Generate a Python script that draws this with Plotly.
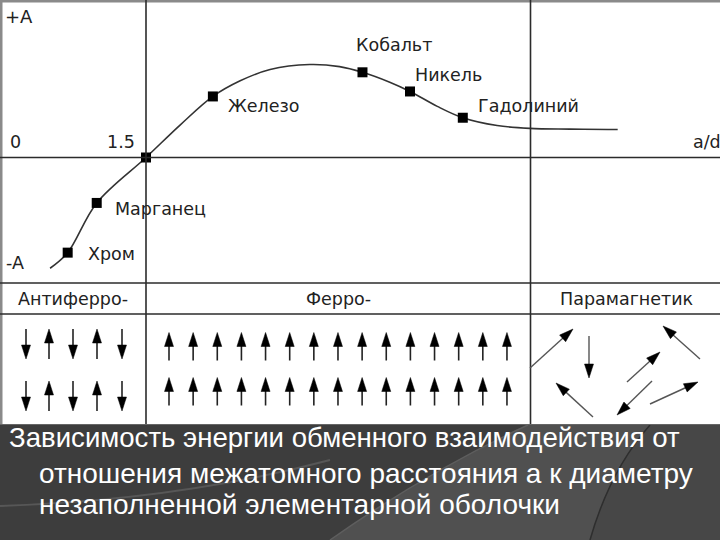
import math
import plotly.graph_objects as go

# ---------------- data ----------------
# exchange-energy curve (x: a/d, y: in units of A)
curve_x = [0.41, 0.61, 0.94, 1.50, 1.89, 2.26, 2.57, 2.91, 3.36, 3.70, 3.96, 4.27, 4.50, 4.81, 5.10, 5.49, 5.86, 6.32, 6.75, 6.86]
curve_y = [-0.78, -0.67, -0.32, 0.00, 0.23, 0.43, 0.54, 0.62, 0.655, 0.64, 0.60, 0.53, 0.465, 0.36, 0.28, 0.225, 0.205, 0.20, 0.197, 0.197]

elem_names = ["Хром", "Марганец", "", "Железо", "Кобальт", "Никель", "Гадолиний"]
elem_x = [0.61, 0.94, 1.50, 2.26, 3.96, 4.50, 5.10]
elem_y = [-0.67, -0.32, 0.00, 0.43, 0.60, 0.465, 0.28]

region_labels = ["Антиферро-", "Ферро-", "Парамагнетик"]

# spin directions (+1 up, -1 down)
antiferro_row1 = [-1, 1, -1, 1, -1]
antiferro_row2 = [-1, 1, -1, 1, -1]
ferro_row1 = [1, 1, 1, 1, 1, 1, 1, 1, 1, 1, 1, 1, 1, 1, 1]
ferro_row2 = [1, 1, 1, 1, 1, 1, 1, 1, 1, 1, 1, 1, 1, 1, 1]

# paramagnetic spins: tail -> head (layout pixels)
para_tail_x = [530, 589, 700, 627, 593, 652, 650]
para_tail_y = [368, 336, 359, 382, 417, 381, 404]
para_head_x = [573, 589, 663, 660, 556, 617, 698]
para_head_y = [329, 378, 326, 352, 383, 415, 382]

caption_lines = [
    "Зависимость энергии обменного взаимодействия от",
    "отношения межатомного расстояния а к диаметру",
    "незаполненной элементарной оболочки",
]

# ---------------- layout helpers ----------------
W, H = 720, 540
X0PX, XSCALE = 14.0, 88.0      # pixel of a/d=0 and px per unit
Y0PX, YSCALE = 157.5, 142.0    # pixel of energy 0 and px per A

LINE = "#2b2b2b"
shapes = []
annotations = []

def pline(x0, y0, x1, y1, color=LINE, width=1.6):
    shapes.append(dict(type="line", xref="x2", yref="y2", x0=x0, y0=y0, x1=x1, y1=y1,
                       line=dict(color=color, width=width)))

def arrow(x0, y0, x1, y1, head_len=14, head_w=9, shaft_color="#222", shaft_w=1.6, head_color="#000"):
    dx, dy = x1 - x0, y1 - y0
    L = math.hypot(dx, dy)
    ux, uy = dx / L, dy / L
    bx, by = x1 - ux * head_len, y1 - uy * head_len
    px, py = -uy, ux
    pline(x0, y0, bx + ux * 2, by + uy * 2, color=shaft_color, width=shaft_w)
    path = "M{:.2f},{:.2f} L{:.2f},{:.2f} L{:.2f},{:.2f} Z".format(
        x1, y1, bx + px * head_w / 2, by + py * head_w / 2, bx - px * head_w / 2, by - py * head_w / 2)
    shapes.append(dict(type="path", xref="x2", yref="y2", path=path,
                       fillcolor=head_color, line=dict(color=head_color, width=0.5)))

# ---------------- background / frame ----------------
shapes.append(dict(type="rect", xref="x2", yref="y2", x0=0, y0=425, x1=720, y1=540,
                   fillcolor="#3d3d3d", line=dict(width=0), layer="below"))
shapes.append(dict(type="path", xref="x2", yref="y2",
                   path="M528,425 Q430,470 330,540 L590,540 Q610,470 650,425 Z",
                   fillcolor="#505050", line=dict(width=0), layer="below"))
shapes.append(dict(type="path", xref="x2", yref="y2",
                   path="M650,425 Q610,470 590,540 L720,540 L720,425 Z",
                   fillcolor="#474747", line=dict(width=0), layer="below"))
shapes.append(dict(type="path", xref="x2", yref="y2",
                   path="M0,506 Q180,500 330,460",
                   line=dict(color="#575757", width=2), layer="below"))
shapes.append(dict(type="path", xref="x2", yref="y2",
                   path="M528,425 Q430,470 330,540",
                   line=dict(color="#5e5e5e", width=1.5), layer="below"))
shapes.append(dict(type="path", xref="x2", yref="y2",
                   path="M650,425 Q610,470 590,540",
                   line=dict(color="#2e2e2e", width=1.5), layer="below"))

# frame of the picture
pline(0, 1, 720, 1, color="#8a8a8a", width=3)
pline(1, 0, 1, 425, color="#8a8a8a", width=3)
# grid lines
pline(146, 0, 146, 425)
pline(530.5, 0, 530.5, 425)
pline(0, Y0PX, 720, Y0PX)
pline(0, 283, 720, 283)
pline(0, 314, 720, 314)
pline(0, 424.5, 720, 424.5, color="#666", width=1)

# ---------------- spins ----------------
af_x = [26, 49, 73, 97, 122]
for row, yc, half in ((antiferro_row1, 344, 15), (antiferro_row2, 396, 15)):
    for xi, d in zip(af_x, row):
        arrow(xi, yc + d * half, xi, yc - d * half)

fx_start, fx_step = 169.0, 24.14
for row, yc, half in ((ferro_row1, 346.5, 14), (ferro_row2, 391.5, 14)):
    for i, d in enumerate(row):
        xi = fx_start + fx_step * i
        arrow(xi, yc + d * half, xi, yc - d * half)

for tx, ty, hx, hy in zip(para_tail_x, para_tail_y, para_head_x, para_head_y):
    arrow(tx, ty, hx, hy, shaft_color="#555", shaft_w=1.4)

# ---------------- text ----------------
FONT_UP = "DejaVu Sans, Liberation Sans, Arial"
TXT = "#222"
LAB = 17.5

def ptext(x, y, s, size=LAB, xanchor="left", yanchor="middle", color=TXT, family=FONT_UP):
    annotations.append(dict(xref="x2", yref="y2", x=x, y=y, text=s, showarrow=False,
                            xanchor=xanchor, yanchor=yanchor,
                            font=dict(family=family, size=size, color=color)))

ptext(3, 16, "+A", size=18)
ptext(8, 142, "0", size=LAB)
ptext(105, 142, "1.5", size=LAB)
ptext(4, 263, "-A", size=LAB)
ptext(691, 142, "a/d", size=LAB)

col_centers = [73, 338, 626]
for cx, lab in zip(col_centers, region_labels):
    ptext(cx, 299, lab, size=LAB, xanchor="center")

# element labels (offsets in px from marker)
label_shift = {
    "Хром": (18, -1),
    "Марганец": (16, -6),
    "Железо": (13, -10),
    "Кобальт": (-8, 27),
    "Никель": (3, 16),
    "Гадолиний": (13, 12),
}
for name, ex, ey in zip(elem_names, elem_x, elem_y):
    if not name:
        continue
    sx, sy = label_shift[name]
    annotations.append(dict(xref="x", yref="y", x=ex, y=ey, text=name, showarrow=False,
                            xanchor="left", yanchor="middle", xshift=sx, yshift=sy,
                            font=dict(family=FONT_UP, size=LAB, color=TXT)))

# caption
CAP_FONT = "Liberation Sans, Arial"
cap_pos = [(7, 437, 27.6), (37, 473, 28), (37, 504, 28)]
for (cx, cy, fs), s in zip(cap_pos, caption_lines):
    ptext(cx, cy, s, size=fs, color="white", family=CAP_FONT)

# ---------------- figure ----------------
fig = go.Figure()
fig.add_trace(go.Scatter(x=curve_x, y=curve_y, mode="lines", line_shape="spline",
                         line=dict(color="#333", width=1.6), hoverinfo="skip", showlegend=False))
fig.add_trace(go.Scatter(x=elem_x, y=elem_y, mode="markers",
                         marker=dict(symbol="square", size=10, color="#000"),
                         text=elem_names, hoverinfo="text", showlegend=False))

x_range = [(0 - X0PX) / XSCALE, (W - X0PX) / XSCALE]
y_range = [(Y0PX - H) / YSCALE, (Y0PX - 0) / YSCALE]

fig.update_layout(
    width=W, height=H, margin=dict(l=0, r=0, t=0, b=0),
    paper_bgcolor="white", plot_bgcolor="rgba(0,0,0,0)",
    xaxis=dict(range=x_range, visible=False, fixedrange=True),
    yaxis=dict(range=y_range, visible=False, fixedrange=True),
    xaxis2=dict(range=[0, W], visible=False, overlaying="x", fixedrange=True),
    yaxis2=dict(range=[H, 0], visible=False, overlaying="y", fixedrange=True),
    shapes=shapes, annotations=annotations, showlegend=False,
)
# dummy trace to activate the pixel axes
fig.add_trace(go.Scatter(x=[None], y=[None], xaxis="x2", yaxis="y2", showlegend=False))

fig.write_html("out.html", config={"displayModeBar": False},
               post_script="document.body.style.margin='0px';document.body.style.overflow='hidden';")
